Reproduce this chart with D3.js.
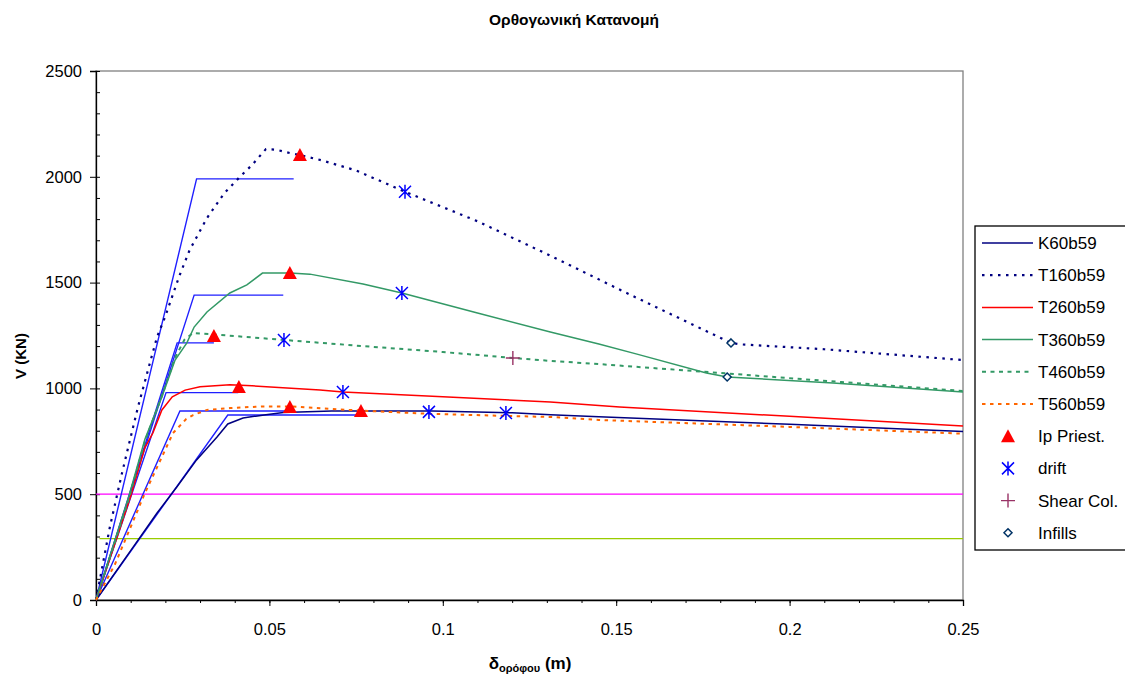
<!DOCTYPE html>
<html>
<head>
<meta charset="utf-8">
<script src="https://cdn.jsdelivr.net/npm/d3@7/dist/d3.min.js"></script>
<style>
  body { margin: 0; background: #fff; }
  text { font-family: "Liberation Sans", Arial, sans-serif; }
</style>
</head>
<body>
<svg width="1125" height="677"></svg>
<script>
// pushover curves, V (KN) vs roof displacement (m)
const k60X = [0, 0.0107, 0.0176, 0.0233, 0.029, 0.0349, 0.038, 0.0424, 0.049, 0.054, 0.068, 0.097, 0.12, 0.131, 0.145, 0.2, 0.25];
const k60Y = [0, 250, 411, 534, 662, 770, 832, 860, 876, 886, 893, 893, 885, 876, 866, 830, 796];

const t160X = [0, 0.004, 0.0075, 0.0098, 0.0121, 0.015, 0.0176, 0.0199, 0.0213, 0.024, 0.027, 0.032, 0.037, 0.0415, 0.045, 0.049, 0.052, 0.056, 0.0588, 0.065, 0.075, 0.0891, 0.11, 0.13, 0.155, 0.1831, 0.186, 0.21, 0.25];
const t160Y = [0, 345, 600, 756, 912, 1087, 1243, 1337, 1403, 1530, 1654, 1805, 1923, 2000, 2056, 2131, 2128, 2112, 2103, 2078, 2030, 1929, 1790, 1635, 1435, 1215, 1208, 1185, 1134];

const t260X = [0, 0.005, 0.01, 0.0141, 0.0164, 0.019, 0.022, 0.0257, 0.03, 0.0386, 0.045, 0.0646, 0.0712, 0.1, 0.131, 0.151, 0.2, 0.25];
const t260Y = [0, 245, 490, 720, 789, 898, 960, 992, 1008, 1017, 1012, 992, 983, 960, 936, 912, 868, 822];

const t360X = [0, 0.0093, 0.0141, 0.019, 0.0228, 0.0262, 0.0283, 0.032, 0.0386, 0.0435, 0.048, 0.056, 0.0617, 0.077, 0.0882, 0.11, 0.131, 0.145, 0.156, 0.176, 0.182, 0.2125, 0.25];
const t360Y = [0, 480, 760, 960, 1134, 1215, 1290, 1361, 1451, 1489, 1545, 1545, 1540, 1493, 1451, 1356, 1267, 1210, 1162, 1073, 1054, 1025, 983];

const t460X = [0, 0.0093, 0.0141, 0.019, 0.0228, 0.0255, 0.028, 0.034, 0.0542, 0.08, 0.1, 0.1202, 0.131, 0.145, 0.184, 0.215, 0.25];
const t460Y = [0, 470, 750, 965, 1145, 1230, 1262, 1255, 1229, 1196, 1172, 1144, 1130, 1115, 1068, 1030, 988];

const t560X = [0, 0.0055, 0.0141, 0.019, 0.0222, 0.026, 0.028, 0.032, 0.0386, 0.048, 0.0559, 0.0764, 0.096, 0.1182, 0.131, 0.145, 0.2, 0.25];
const t560Y = [0, 170, 505, 676, 789, 855, 874, 898, 907, 915, 915, 895, 880, 870, 865, 851, 818, 786];

// idealised bilinear curves (not in legend)
const bilinX = [[0, 0.029, 0.057], [0, 0.0283, 0.054], [0, 0.0234, 0.034], [0, 0.0202, 0.041], [0, 0.0242, 0.056], [0, 0.038, 0.075]];
const bilinY = [[0, 1990, 1990], [0, 1441, 1441], [0, 1215, 1215], [0, 980, 980], [0, 893, 893], [0, 874, 874]];

// limit lines (not in legend)
const limitV = [500, 290];
const limitX0 = [0, 0.001];

// markers
const ipX = [0.0588, 0.0559, 0.034, 0.0412, 0.0559, 0.0764];
const ipY = [2103, 1545, 1248, 1007, 912, 893];
const driftX = [0.0891, 0.0882, 0.0542, 0.0712, 0.096, 0.1182];
const driftY = [1929, 1451, 1229, 983, 889, 884];
const shearX = [0.1202];
const shearY = [1144];
const infillX = [0.1831, 0.182];
const infillY = [1215, 1054];

const xTicks = [0, 0.05, 0.1, 0.15, 0.2, 0.25];
const yTicks = [0, 500, 1000, 1500, 2000, 2500];

var svg = d3.select("svg"),
    pLeft = 96, pRight = 963, pTop = 71, pBottom = 600;

var x = d3.scaleLinear().domain([0, 0.25]).range([pLeft, pRight]);
var y = d3.scaleLinear().domain([0, 2500]).range([pBottom, pTop]);

// plot frame
svg.append("rect")
    .attr("x", pLeft).attr("y", pTop)
    .attr("width", pRight - pLeft).attr("height", pBottom - pTop)
    .attr("fill", "none").attr("stroke", "#808080").attr("stroke-width", 1.3);

// axes
svg.append("g")
    .attr("transform", "translate(0," + pBottom + ")")
    .call(d3.axisBottom(x).tickValues(d3.range(0, 0.2501, 0.01)).tickSize(3).tickFormat(""))
    .call(g => g.select(".domain").remove());
svg.append("g")
    .attr("transform", "translate(0," + pBottom + ")")
    .call(d3.axisBottom(x).tickValues(xTicks).tickSize(6).tickPadding(17).tickFormat(d3.format("")))
    .call(g => g.selectAll("text").style("font-size", "16.5px").attr("fill", "#000"));

svg.append("g")
    .attr("transform", "translate(" + pLeft + ",0)")
    .call(d3.axisRight(y).tickValues(d3.range(0, 2501, 100)).tickSize(4).tickFormat(""))
    .call(g => g.select(".domain").remove());
svg.append("g")
    .attr("transform", "translate(" + pLeft + ",0)")
    .call(d3.axisLeft(y).tickValues(yTicks).tickSize(6).tickPadding(8).tickFormat(d3.format("d")))
    .call(g => g.selectAll("text").style("font-size", "16.5px").attr("fill", "#000"));

svg.selectAll(".tick line").attr("stroke", "#000");
svg.selectAll(".domain").attr("stroke", "#000").attr("stroke-width", 1.3);

var line = d3.line().x(d => x(d[0])).y(d => y(d[1]));
const pts = (xs, ys) => xs.map((v, i) => [v, ys[i]]);

// horizontal limit lines
svg.append("path").attr("d", line([[limitX0[0], limitV[0]], [0.25, limitV[0]]]))
    .attr("stroke", "#ff00ff").attr("stroke-width", 1.2).attr("fill", "none");
svg.append("path").attr("d", line([[limitX0[1], limitV[1]], [0.25, limitV[1]]]))
    .attr("stroke", "#99cc00").attr("stroke-width", 1.2).attr("fill", "none");

// bilinear
svg.append("g").selectAll("path")
    .data(bilinX.map((xs, i) => pts(xs, bilinY[i])))
    .enter().append("path")
    .attr("d", line)
    .attr("fill", "none")
    .attr("stroke", "#1f1fff")
    .attr("stroke-width", 1.4);

const series = [
    {name: "K60b59", xs: k60X, ys: k60Y, color: "#000080", dash: null, w: 1.5},
    {name: "T160b59", xs: t160X, ys: t160Y, color: "#000080", dash: "2.5,5.5", w: 2.2},
    {name: "T260b59", xs: t260X, ys: t260Y, color: "#ff0000", dash: null, w: 1.5},
    {name: "T360b59", xs: t360X, ys: t360Y, color: "#339966", dash: null, w: 1.5},
    {name: "T460b59", xs: t460X, ys: t460Y, color: "#339966", dash: "4,4.5", w: 2},
    {name: "T560b59", xs: t560X, ys: t560Y, color: "#ff6600", dash: "3.5,4.5", w: 2}
];

svg.append("g").selectAll("path")
    .data(series)
    .enter().append("path")
    .attr("d", d => line(pts(d.xs, d.ys)))
    .attr("fill", "none")
    .attr("stroke", d => d.color)
    .attr("stroke-width", d => d.w)
    .attr("stroke-dasharray", d => d.dash);

// marker shapes
const tri = (g, cx, cy) => g.append("path")
    .attr("d", `M${cx},${cy - 7}L${cx + 7},${cy + 6}L${cx - 7},${cy + 6}Z`)
    .attr("fill", "#ff0000");
const star = (g, cx, cy) => g.append("path")
    .attr("d", `M${cx},${cy - 7}V${cy + 7}M${cx - 6},${cy - 6}L${cx + 6},${cy + 6}M${cx - 6},${cy + 6}L${cx + 6},${cy - 6}`)
    .attr("stroke", "#0000ff").attr("stroke-width", 1.5).attr("fill", "none");
const plus = (g, cx, cy) => g.append("path")
    .attr("d", `M${cx},${cy - 7}V${cy + 7}M${cx - 7},${cy}H${cx + 7}`)
    .attr("stroke", "#993366").attr("stroke-width", 1.4).attr("fill", "none");
const diamond = (g, cx, cy) => g.append("path")
    .attr("d", `M${cx},${cy - 4}L${cx + 4},${cy}L${cx},${cy + 4}L${cx - 4},${cy}Z`)
    .attr("stroke", "#003366").attr("stroke-width", 1.5).attr("fill", "#fff");

var mk = svg.append("g");
ipX.forEach((v, i) => tri(mk, x(v), y(ipY[i])));
driftX.forEach((v, i) => star(mk, x(v), y(driftY[i])));
shearX.forEach((v, i) => plus(mk, x(v), y(shearY[i])));
infillX.forEach((v, i) => diamond(mk, x(v), y(infillY[i])));

// title and axis labels
svg.append("text").attr("x", 574).attr("y", 25).attr("text-anchor", "middle")
    .style("font-size", "15.5px").style("font-weight", "bold").text("Ορθογωνική Κατανομή");

svg.append("text").attr("transform", "translate(26,356) rotate(-90)").attr("text-anchor", "middle")
    .style("font-size", "15px").style("font-weight", "bold").text("V (KN)");

var xl = svg.append("text").attr("x", 530).attr("y", 669).attr("text-anchor", "middle")
    .style("font-size", "17px").style("font-weight", "bold");
xl.append("tspan").text("δ");
xl.append("tspan").attr("dy", 3).style("font-size", "11px").text("ορόφου");
xl.append("tspan").attr("dy", -3).text(" (m)");

// legend
var lg = svg.append("g");
lg.append("rect").attr("x", 975).attr("y", 226).attr("width", 160).attr("height", 324)
    .attr("fill", "#fff").attr("stroke", "#000").attr("stroke-width", 1.3);

const rowY = i => 243 + i * 32.2;
series.forEach((s, i) => {
    lg.append("line").attr("x1", 982).attr("x2", 1033).attr("y1", rowY(i)).attr("y2", rowY(i))
        .attr("stroke", s.color).attr("stroke-width", s.w).attr("stroke-dasharray", s.dash);
    lg.append("text").attr("x", 1038).attr("y", rowY(i) + 6).style("font-size", "17px").text(s.name);
});
const markerLegend = [["Ip Priest.", tri], ["drift", star], ["Shear Col.", plus], ["Infills", diamond]];
markerLegend.forEach((m, j) => {
    const i = j + 6;
    m[1](lg, 1008, rowY(i));
    lg.append("text").attr("x", 1038).attr("y", rowY(i) + 6).style("font-size", "17px").text(m[0]);
});
</script>
</body>
</html>
